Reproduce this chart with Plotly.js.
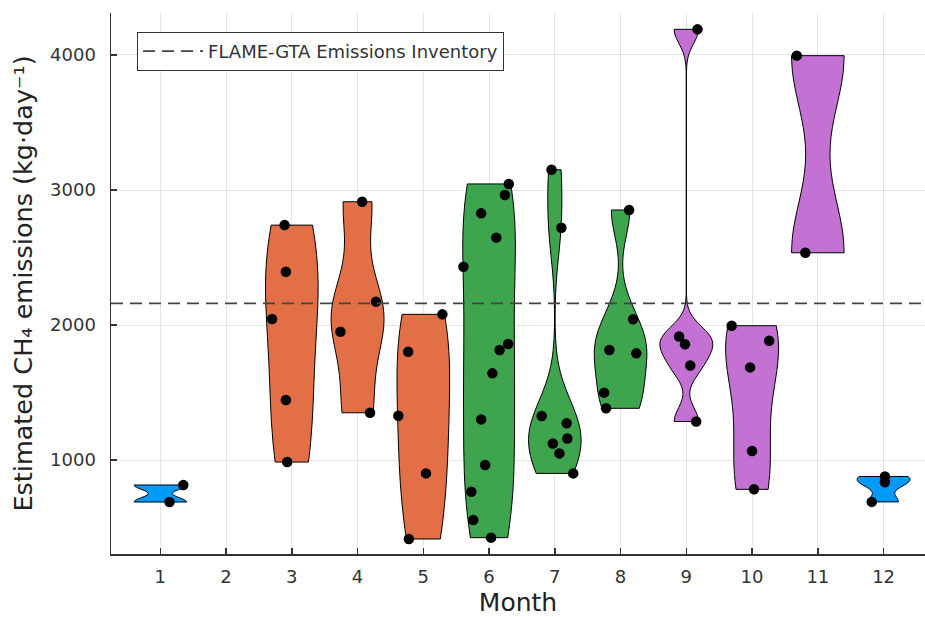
<!DOCTYPE html>
<html>
<head>
<meta charset="utf-8">
<script src="https://cdn.plot.ly/plotly-3.0.1.min.js"></script>
<style>
  html, body { margin: 0; padding: 0; background: #fff; }
  #chart { width: 925px; height: 617px; }
</style>
</head>
<body>
<div id="chart"></div>
<script>
// ---- data (kg/day) ----
const months = [1, 3, 4, 5, 6, 7, 8, 9, 10, 11, 12];
const m1  = [815, 689];
const m3  = [2740, 2395, 2045, 1445, 985];
const m4  = [2913, 2173, 1950, 1350];
const m5  = [2079, 1802, 1328, 901, 415];
const m6  = [3045, 2963, 2827, 2647, 2432, 1859, 1815, 1642, 1301, 963, 765, 556, 425];
const m7  = [3150, 2721, 1326, 1272, 1160, 1123, 1049, 901];
const m8  = [2852, 2042, 1815, 1790, 1499, 1383];
const m9  = [4190, 1915, 1857, 1700, 1285];
const m10 = [1995, 1884, 1686, 1067, 783];
const m11 = [3995, 2535];
const m12 = [878, 835, 690];
// horizontal jitter of the dots (month units)
const j1  = [0.35, 0.14];
const j3  = [-0.11, -0.09, -0.30, -0.09, -0.07];
const j4  = [0.07, 0.28, -0.26, 0.19];
const j5  = [0.29, -0.23, -0.38, 0.04, -0.22];
const j6  = [0.30, 0.24, -0.12, 0.11, -0.39, 0.29, 0.16, 0.05, -0.12, -0.06, -0.27, -0.24, 0.03];
const j7  = [-0.05, 0.10, -0.20, 0.18, 0.19, -0.03, 0.07, 0.28];
const j8  = [0.13, 0.19, -0.17, 0.24, -0.25, -0.22];
const j9  = [0.17, -0.11, -0.02, 0.06, 0.15];
const j10 = [-0.31, 0.26, -0.03, 0.00, 0.03];
const j11 = [-0.32, -0.19];
const j12 = [0.02, 0.02, -0.18];
const inventory = 2160;
const tickMonths = [1, 2, 3, 4, 5, 6, 7, 8, 9, 10, 11, 12];
const yTicks = [1000, 2000, 3000, 4000];
const inventoryLabel = 'FLAME-GTA Emissions Inventory';

const values = [m1, m3, m4, m5, m6, m7, m8, m9, m10, m11, m12];
const jitter = [j1, j3, j4, j5, j6, j7, j8, j9, j10, j11, j12];

// season colours (Julia default palette)
const seasonColor = {winter: '#009AFA', spring: '#E36F47', summer: '#3EA44E', autumn: '#C371D2'};
function season(m) {
  if (m === 12 || m <= 2) return 'winter';
  if (m <= 5) return 'spring';
  if (m <= 8) return 'summer';
  return 'autumn';
}

// KernelDensity.jl default bandwidth (Silverman, alpha 0.9)
function quant(sorted, p) {
  const n = sorted.length, h = (n - 1) * p, lo = Math.floor(h);
  const hi = Math.min(lo + 1, n - 1);
  return sorted[lo] + (h - lo) * (sorted[hi] - sorted[lo]);
}
function bw(v) {
  const n = v.length;
  const mean = v.reduce((a, b) => a + b, 0) / n;
  const sd = Math.sqrt(v.reduce((a, b) => a + (b - mean) * (b - mean), 0) / (n - 1));
  const s = v.slice().sort((a, b) => a - b);
  const iqr = quant(s, 0.75) - quant(s, 0.25);
  let w = Math.min(sd, iqr / 1.34);
  if (w === 0) w = 1;
  return 0.9 * w * Math.pow(n, -0.2);
}

const traces = [];
months.forEach((m, i) => {
  traces.push({
    type: 'violin',
    x0: m,
    y: values[i],
    name: 'M' + m,
    showlegend: false,
    points: false,
    box: {visible: false},
    meanline: {visible: false},
    spanmode: 'hard',
    bandwidth: bw(values[i]),
    scalemode: 'width',
    width: 0.8,
    fillcolor: seasonColor[season(m)],
    opacity: 1,
    line: {color: '#000', width: 1},
    hoverinfo: 'skip'
  });
});
months.forEach((m, i) => {
  traces.push({
    type: 'scatter',
    mode: 'markers',
    x: jitter[i].map(d => m + d),
    y: values[i],
    showlegend: false,
    marker: {color: '#000', size: 10.5, line: {width: 0}},
    hoverinfo: 'skip'
  });
});

const font = 'DejaVu Sans, Liberation Sans, sans-serif';
const layout = {
  width: 925, height: 617,
  margin: {l: 111, r: 0, t: 13, b: 63, pad: 0},
  paper_bgcolor: '#fff', plot_bgcolor: '#fff',
  font: {family: font, color: '#333'},
  violinmode: 'overlay',
  showlegend: true,
  xaxis: {
    range: [0.25, 12.63],
    tickvals: tickMonths,
    ticktext: tickMonths.map(String),
    showgrid: true, gridcolor: 'rgba(0,0,0,0.1)', gridwidth: 1,
    zeroline: false,
    showline: true, linecolor: '#333', linewidth: 1.5,
    ticks: 'inside', ticklen: 6, tickcolor: '#333', tickwidth: 1.5,
    ticklabelstandoff: 6,
    tickfont: {size: 18, family: font, color: '#333'},
    title: {text: 'Month', font: {size: 25, family: font, color: '#222'}, standoff: 19}
  },
  yaxis: {
    range: [304, 4311],
    tickvals: yTicks,
    ticktext: yTicks.map(String),
    showgrid: true, gridcolor: 'rgba(0,0,0,0.1)', gridwidth: 1,
    zeroline: false,
    showline: true, linecolor: '#333', linewidth: 1.5,
    ticks: 'inside', ticklen: 6, tickcolor: '#333', tickwidth: 1.5,
    ticklabelstandoff: 10,
    tickfont: {size: 18, family: font, color: '#333'},
    title: {text: 'Estimated CH₄ emissions (kg·day⁻¹)', font: {size: 25.5, family: font, color: '#222'}, standoff: 10}
  },
  shapes: [{
    type: 'line', xref: 'paper', x0: 0, x1: 1, yref: 'y', y0: inventory, y1: inventory,
    line: {color: '#444', width: 1.6, dash: '12px,7px'},
    layer: 'above',
    showlegend: true,
    name: inventoryLabel
  }],
  legend: {
    x: 0.032, y: 0.965, xanchor: 'left', yanchor: 'top',
    bgcolor: '#fff', bordercolor: '#333', borderwidth: 1,
    font: {size: 18, family: font, color: '#333'},
    itemwidth: 60
  }
};

Plotly.newPlot('chart', traces, layout, {displayModeBar: false, staticPlot: true});
</script>
</body>
</html>
